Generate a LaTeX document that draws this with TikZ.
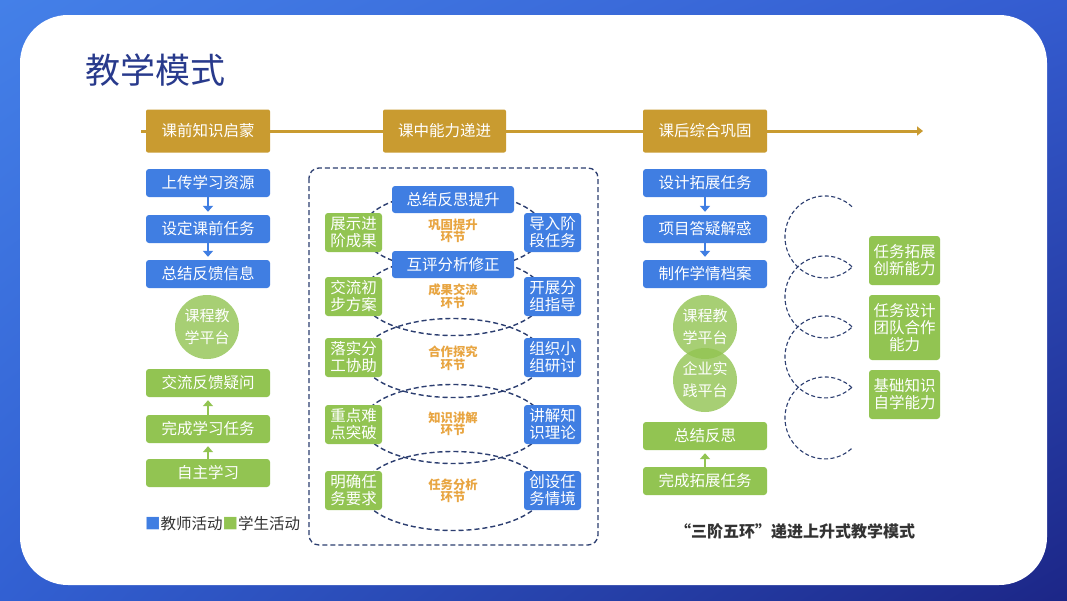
\documentclass[tikz,border=0pt]{standalone}
\usepackage{fontspec}
\newfontfamily\cjk{Noto Sans CJK SC}
\usetikzlibrary{calc,arrows.meta,shadings}
\definecolor{bgUL}{RGB}{68,128,232}
\definecolor{bgUR}{RGB}{52,92,208}
\definecolor{bgLL}{RGB}{50,96,210}
\definecolor{bgLR}{RGB}{28,38,135}
\definecolor{boxblue}{RGB}{64,126,226}
\definecolor{boxgreen}{RGB}{146,196,82}
\definecolor{gold}{RGB}{201,155,48}
\definecolor{navy}{RGB}{44,62,112}
\definecolor{orangetxt}{RGB}{232,165,65}
\definecolor{titlec}{RGB}{40,58,140}
\definecolor{capc}{RGB}{51,51,51}
\pgfdeclarelayer{bgzero}
\pgfdeclarelayer{bgone}
\pgfsetlayers{bgzero,bgone,main}
\tikzset{
  base/.style={rounded corners=3pt, text=white, inner sep=0pt, align=center,
    font=\cjk\fontsize{15.5}{17}\selectfont},
  bbox/.style={base, fill=boxblue},
  gbox/.style={base, fill=boxgreen},
  goldbox/.style={base, fill=gold, rounded corners=2pt, minimum width=124pt, minimum height=43pt},
  wide/.style={minimum width=124pt, minimum height=28pt},
  mid/.style={minimum width=122pt, minimum height=27pt},
  side/.style={minimum width=57pt, minimum height=39pt},
  far/.style={minimum width=71pt},
  lab/.style={text=orangetxt, font=\cjk\bfseries\fontsize{12.3}{12.5}\selectfont, align=center, inner sep=0pt},
  ring/.style={navy, dash pattern=on 5pt off 3pt, line width=1.4pt},
  helix/.style={navy, dash pattern=on 4pt off 2.5pt, line width=1.1pt},
  plat/.style={circle, fill=boxgreen, fill opacity=.8, text opacity=1, text=white,
    minimum size=64pt, inner sep=0pt, align=center, font=\cjk\fontsize{15}{22}\selectfont},
  barrow/.style={-{Triangle[width=10pt,length=6pt]}, line width=2pt, boxblue, shorten >=3pt},
  garrow/.style={-{Triangle[width=10pt,length=6pt]}, line width=2pt, boxgreen, shorten >=3pt},
  gline/.style={gold, line width=3pt},
}
\begin{document}
\begin{tikzpicture}[x=1pt,y=-1pt]
\useasboundingbox (0,0) rectangle (1067,600);
\begin{pgfonlayer}{bgzero}
  \shade[upper left=bgUL, upper right=bgUR, lower left=bgLL, lower right=bgLR] (0,0) rectangle (1067,600);
  \fill[white, rounded corners=48pt] (20,15) rectangle (1047,585);
\end{pgfonlayer}

% title
\node[font=\cjk\fontsize{35}{40}\selectfont, text=titlec, anchor=west, inner sep=0pt] (title) at (85,70) {教学模式};

% timeline
\node[goldbox] (g1) at (208,131) {课前知识启蒙};
\node[goldbox, minimum width=123pt] (g2) at (444.5,131) {课中能力递进};
\node[goldbox] (g3) at (705,131) {课后综合巩固};
\coordinate (t0) at (141,131);
\coordinate (t1) at (923,131);
\draw[gline] (t0) -- (g1.west);
\draw[gline] (g1.east) -- (g2.west);
\draw[gline] (g2.east) -- (g3.west);
\draw[gline, -{Triangle[width=9pt,length=6pt]}] (g3.east) -- (t1);

% left column
\node[bbox, wide] (a1) at (208,183) {上传学习资源};
\node[bbox, wide] (a2) at (208,229) {设定课前任务};
\node[bbox, wide] (a3) at (208,274) {总结反馈信息};
\node[plat] (c1) at (207,327) {课程教\\学平台};
\node[gbox, wide] (a4) at (208,383) {交流反馈疑问};
\node[gbox, wide] (a5) at (208,429) {完成学习任务};
\node[gbox, wide] (a6) at (208,473) {自主学习};
\draw[barrow] (a1) -- (a2);
\draw[barrow] (a2) -- (a3);
\draw[garrow] (a5) -- (a4);
\draw[garrow] (a6) -- (a5);
\node[anchor=west, inner sep=0pt, text=capc, font=\cjk\fontsize{15.5}{17}\selectfont] (leg) at (145,524)
  {\textcolor{boxblue}{■}教师活动\textcolor{boxgreen}{■}学生活动};

% middle
\draw[ring, line width=1.3pt, rounded corners=10pt] (309,168) rectangle (598,545);
\node[bbox, mid] (m1) at (453,199.5) {总结反思提升};
\node[bbox, mid] (m2) at (453,264.5) {互评分析修正};
\node[gbox, side] (L1) at (353.5,232.5) {展示进\\阶成果};
\node[gbox, side] (L2) at (353.5,296.5) {交流初\\步方案};
\node[gbox, side] (L3) at (353.5,357.5) {落实分\\工协助};
\node[gbox, side] (L4) at (353.5,424.5) {重点难\\点突破};
\node[gbox, side] (L5) at (353.5,490.5) {明确任\\务要求};
\node[bbox, side] (R1) at (552.5,232.5) {导入阶\\段任务};
\node[bbox, side] (R2) at (552.5,296.5) {开展分\\组指导};
\node[bbox, side] (R3) at (552.5,357.5) {组织小\\组研讨};
\node[bbox, side] (R4) at (552.5,424.5) {讲解知\\识理论};
\node[bbox, side] (R5) at (552.5,490.5) {创设任\\务情境};
\node[lab] (k1) at (453,231) {巩固提升\\环节};
\node[lab] (k2) at (453,296) {成果交流\\环节};
\node[lab] (k3) at (453,358) {合作探究\\环节};
\node[lab] (k4) at (453,424) {知识讲解\\环节};
\node[lab] (k5) at (453,491) {任务分析\\环节};
\begin{pgfonlayer}{bgone}
  \foreach \k in {k1,k2,k3,k4,k5}
    \draw[ring] (\k.center) ellipse [x radius=91, y radius=39.5];
\end{pgfonlayer}

% right column
\node[bbox, wide] (r1) at (705,183) {设计拓展任务};
\node[bbox, wide] (r2) at (705,229) {项目答疑解惑};
\node[bbox, wide] (r3) at (705,274) {制作学情档案};
\node[plat] (p1) at (705,327) {课程教\\学平台};
\node[plat] (p2) at (705,380) {企业实\\践平台};
\node[gbox, wide] (r4) at (705,436) {总结反思};
\node[gbox, wide] (r5) at (705,481) {完成拓展任务};
\draw[barrow] (r1) -- (r2);
\draw[barrow] (r2) -- (r3);
\draw[garrow] (r5) -- (r4);

% helix
\coordinate (h1) at (825,237);
\coordinate (h2) at (825,297);
\coordinate (h3) at (825,357);
\coordinate (h4) at (825,418);
\foreach \h in {h1,h2,h3,h4}
  \draw[helix] ($(\h)+(27,-30.3)$) arc[start angle=-47.5, end angle=-312.5, x radius=40, y radius=41];

% far right
\node[gbox, far, minimum height=49pt] (e1) at (904.5,260.5) {任务拓展\\创新能力};
\node[gbox, far, minimum height=65pt] (e2) at (904.5,327.5) {任务设计\\团队合作\\能力};
\node[gbox, far, minimum height=49pt] (e3) at (904.5,394.5) {基础知识\\自学能力};

% caption
\node[inner sep=0pt, text=capc, font=\cjk\bfseries\fontsize{16}{18}\selectfont] (cap) at (795,531) {“三阶五环”递进上升式教学模式};
\end{tikzpicture}
\end{document}
